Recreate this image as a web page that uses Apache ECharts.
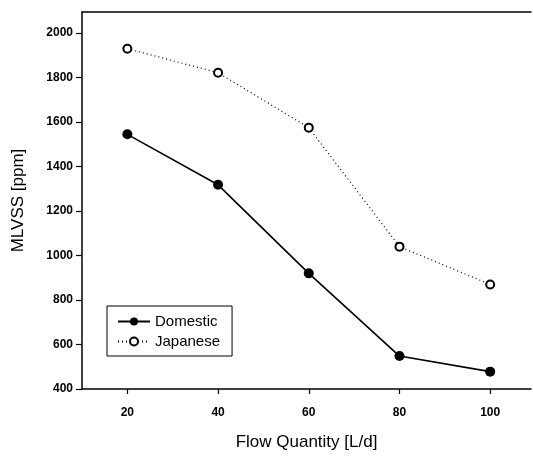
<!DOCTYPE html>
<html>
<head>
<meta charset="utf-8">
<script src="https://cdn.jsdelivr.net/npm/echarts@6/dist/echarts.min.js"></script>
<style>
html,body{margin:0;padding:0;background:#fff;}
#chart{width:533px;height:456px;}
</style>
</head>
<body>
<div id="chart"></div>
<script>
const flow = [20, 40, 60, 80, 100];
const domestic = [1545, 1318, 920, 548, 478];
const japanese = [1930, 1822, 1575, 1040, 870];
const xTicks = [20, 40, 60, 80, 100];

const chart = echarts.init(document.getElementById('chart'), null, {renderer: 'canvas'});
const font = 'Liberation Sans, Arial, sans-serif';
chart.setOption({
  animation: false,
  backgroundColor: '#fff',
  grid: {left: 82, top: 12, right: 2, bottom: 66, show: false},
  xAxis: [{
    type: 'value', min: 10, max: 109,
    name: 'Flow Quantity [L/d]', nameLocation: 'middle', nameGap: 45,
    nameTextStyle: {fontFamily: font, fontSize: 17, color: '#000'},
    axisLine: {show: true, onZero: false, lineStyle: {color: '#000', width: 1.5}},
    axisTick: {show: true, length: 5, inside: false, customValues: xTicks, lineStyle: {color: '#000', width: 1.2}},
    axisLabel: {customValues: xTicks, margin: 18, fontFamily: font, fontSize: 12, fontWeight: 'bold', color: '#000',
      formatter: v => String(v)},
    splitLine: {show: false}
  }, {
    type: 'value', position: 'top', min: 10, max: 109,
    axisLine: {show: true, onZero: false, lineStyle: {color: '#000', width: 1.5}},
    axisTick: {show: false}, axisLabel: {show: false}, splitLine: {show: false}
  }],
  yAxis: {
    type: 'value', min: 400, max: 2095, interval: 200,
    name: 'MLVSS [ppm]', nameLocation: 'middle', nameGap: 55, nameRotate: 90,
    nameTextStyle: {fontFamily: font, fontSize: 17, color: '#000'},
    axisLine: {show: true, lineStyle: {color: '#000', width: 1.5}},
    axisTick: {show: true, length: 6, lineStyle: {color: '#000', width: 1.2}},
    axisLabel: {margin: 9, fontFamily: font, fontSize: 12, fontWeight: 'bold', color: '#000',
      showMaxLabel: false, formatter: v => String(v)},
    splitLine: {show: false}
  },
  legend: {
    orient: 'vertical', left: 107, top: 306,
    padding: [8, 12, 7, 10],
    borderColor: '#000', borderWidth: 1,
    itemWidth: 32, itemHeight: 10, itemGap: 5,
    textStyle: {fontFamily: font, fontSize: 15, color: '#000'},
    data: ['Domestic', 'Japanese']
  },
  series: [
    {
      name: 'Domestic', type: 'line',
      data: flow.map((x, i) => [x, domestic[i]]),
      symbol: 'circle', symbolSize: 10,
      lineStyle: {color: '#000', width: 1.6, type: 'solid'},
      itemStyle: {color: '#000', borderColor: '#000', borderWidth: 0}
    },
    {
      name: 'Japanese', type: 'line',
      data: flow.map((x, i) => [x, japanese[i]]),
      symbol: 'circle', symbolSize: 8,
      lineStyle: {color: '#000', width: 1.2, type: [1, 3]},
      itemStyle: {color: '#fff', borderColor: '#000', borderWidth: 2}
    }
  ]
});
</script>
</body>
</html>
